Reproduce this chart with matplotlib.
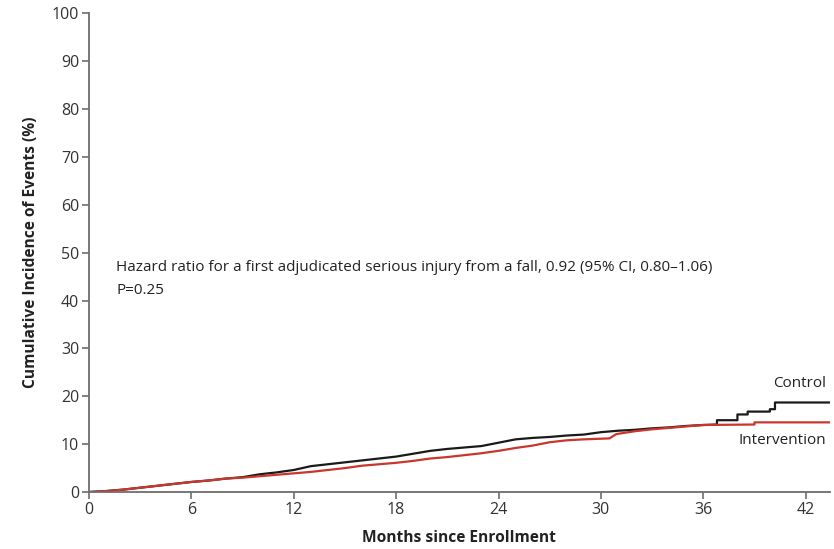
import matplotlib
matplotlib.use("Agg")
import matplotlib.pyplot as plt

plt.rcParams['font.family'] = ['Open Sans', 'DejaVu Sans']

# cumulative incidence curves
# (repeated month values mark the visible vertical steps)
months_control = [0, 1, 2, 3, 4, 5, 6, 7, 8, 9, 10, 11, 12, 13, 14, 15, 16, 17, 18,
                  19, 20, 21, 22, 23, 24, 25, 26, 27, 28, 29, 30, 31, 32, 33, 34, 35,
                  36, 36.8, 36.8, 38.0, 38.0, 38.6, 38.6, 39.9, 39.9, 40.2, 40.2, 43.4]
control = [0, 0.2, 0.5, 0.9, 1.3, 1.7, 2.1, 2.4, 2.8, 3.1, 3.7, 4.1, 4.6, 5.4, 5.8, 6.2,
           6.6, 7.0, 7.4, 8.0, 8.6, 9.0, 9.3, 9.6, 10.3, 11.0, 11.3, 11.5, 11.8, 12.0,
           12.5, 12.8, 13.0, 13.3, 13.5, 13.8, 14.0, 14.1, 15.0, 15.0, 16.2, 16.2, 16.8,
           16.8, 17.3, 17.3, 18.7, 18.7]

months_interv = [0, 1, 2, 3, 4, 5, 6, 7, 8, 9, 10, 11, 12, 13, 14, 15, 16, 17, 18,
                 19, 20, 21, 22, 23, 24, 25, 26, 27, 28, 29, 30.5, 30.9, 32, 33, 34,
                 35, 36, 39.0, 39.0, 43.4]
intervention = [0, 0.2, 0.5, 0.9, 1.3, 1.7, 2.1, 2.4, 2.8, 3.0, 3.3, 3.6, 3.9, 4.2, 4.6,
                5.0, 5.5, 5.8, 6.1, 6.5, 7.0, 7.3, 7.7, 8.1, 8.6, 9.2, 9.7, 10.4, 10.8,
                11.0, 11.2, 12.1, 12.7, 13.1, 13.4, 13.7, 14.0, 14.1, 14.55, 14.55]

x_ticks = [0, 6, 12, 18, 24, 30, 36, 42]
y_ticks = [0, 10, 20, 30, 40, 50, 60, 70, 80, 90, 100]

fig = plt.figure(figsize=(8.34, 5.49), dpi=100)
ax = fig.add_axes([0.1067, 0.1038, 0.888, 0.872])

ax.plot(months_control, control, color='#1a1a1a', lw=1.6)
ax.plot(months_interv, intervention, color='#c8372d', lw=1.6)

ax.set_xlim(0, 43.4)
ax.set_ylim(0, 100)
ax.set_xticks(x_ticks)
ax.set_yticks(y_ticks)

for s in ['top', 'right']:
    ax.spines[s].set_visible(False)
for s in ['left', 'bottom']:
    ax.spines[s].set_color('#6d6d6d')
    ax.spines[s].set_linewidth(1.3)
ax.tick_params(direction='out', length=5, width=1.2, color='#6d6d6d',
               labelsize=11.5, labelcolor='#333333', pad=2)

ax.set_xlabel('Months since Enrollment', fontsize=11.2, fontweight='bold',
              color='#222222', labelpad=9)
ax.set_ylabel('Cumulative Incidence of Events (%)', fontsize=11.2, fontweight='bold',
              color='#222222', labelpad=9)

ax.text(1.6, 47.0, 'Hazard ratio for a first adjudicated serious injury from a fall, '
        '0.92 (95% CI, 0.80\u20131.06)', fontsize=11, color='#222222', va='center')
ax.text(1.6, 42.0, 'P=0.25', fontsize=11, color='#222222', va='center')

ax.text(43.2, 22.6, 'Control', fontsize=11, color='#222222', ha='right', va='center')
ax.text(43.2, 10.8, 'Intervention', fontsize=11, color='#222222', ha='right', va='center')

fig.savefig('out.png', dpi=100)
